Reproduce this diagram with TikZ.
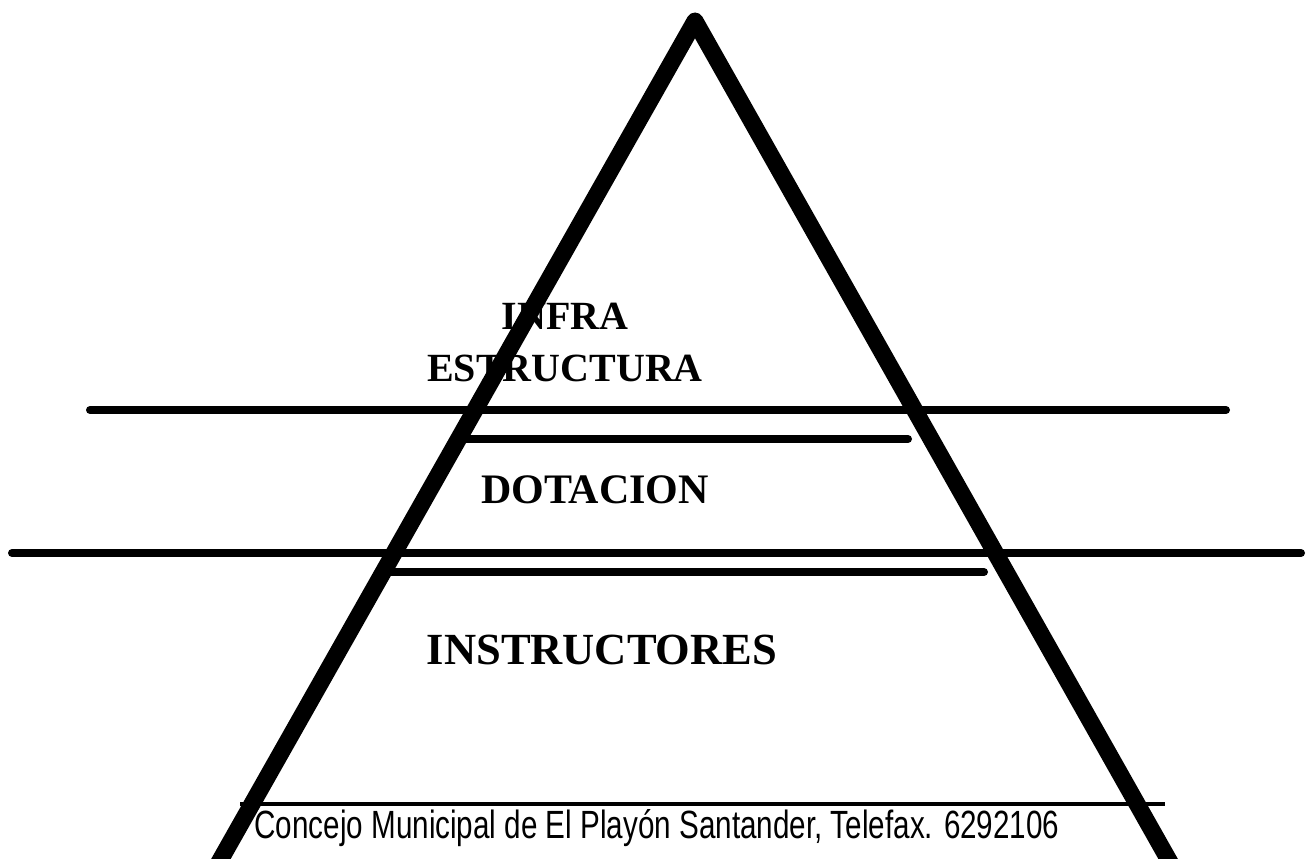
\documentclass[tikz,border=0pt]{standalone}
\usepackage{fontspec}
\setmainfont{Liberation Serif}
\newfontfamily\footfont{Liberation Sans}
\begin{document}
\begin{tikzpicture}[x=1pt,y=-1pt,
  tri/.style={line width=17pt, line join=round, line cap=butt},
  bar/.style={line width=8pt, line cap=round},
  footline/.style={line width=4pt},
  lbl/.style={align=center, inner sep=0pt},
  foot/.style={inner sep=0pt}]
\useasboundingbox (0,0) rectangle (1307,859);
\clip (0,0) rectangle (1307,859);
% labels
\node[lbl, font=\fontsize{40}{52}\selectfont\bfseries] (infra) at (565,342) {INFRA\\ESTRUCTURA};
\node[lbl, font=\fontsize{42}{50}\selectfont\bfseries] (dot) at (595,490) {DOTACION};
\node[lbl, font=\fontsize{44.5}{50}\selectfont\bfseries] (inst) at (602,650) {INSTRUCTORES};
\node[foot] (foot) at (657,828) {\resizebox{805pt}{29pt}{\footfont\fontsize{27}{30}\selectfont Concejo Municipal de El Playón Santander, Telefax. 6292106}};
% horizontal bars
\coordinate (a1) at (90,410);  \coordinate (a2) at (1226,410);
\coordinate (b1) at (466,439); \coordinate (b2) at (908,439);
\coordinate (c1) at (12,553);  \coordinate (c2) at (1301,553);
\coordinate (d1) at (390,572); \coordinate (d2) at (984,572);
\coordinate (e1) at (240,804); \coordinate (e2) at (1165,804);
\draw[bar] (a1) -- (a2);
\draw[bar] (b1) -- (b2);
\draw[bar] (c1) -- (c2);
\draw[bar] (d1) -- (d2);
\draw[footline] (e1) -- (e2);
% triangle
\coordinate (apex) at (695,21);
\coordinate (bl) at (209,880);
\coordinate (br) at (1180,880);
\draw[tri] (bl) -- (apex) -- (br);
\end{tikzpicture}
\end{document}
